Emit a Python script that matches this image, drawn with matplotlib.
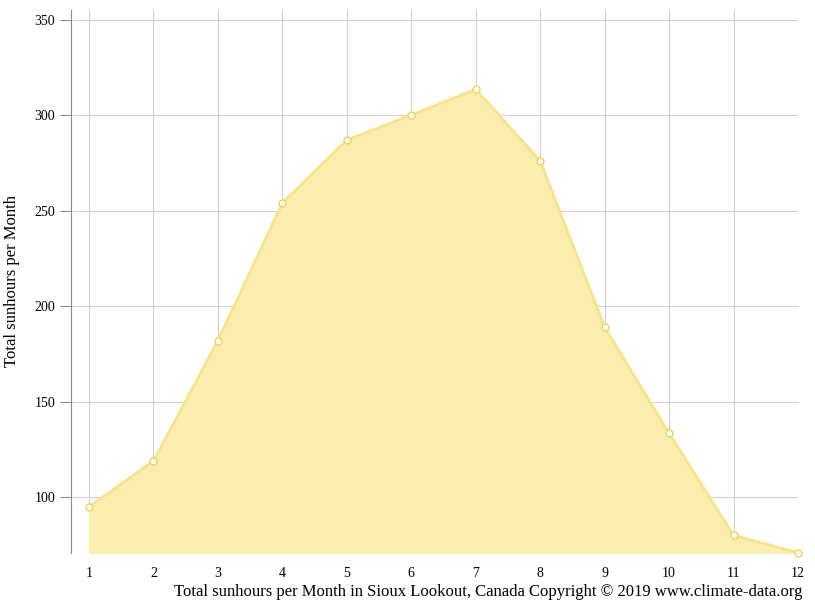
import matplotlib
matplotlib.use('Agg')
import matplotlib.pyplot as plt

plt.rcParams['font.family'] = ['Liberation Serif', 'DejaVu Serif']

# Monthly sunshine hours, Sioux Lookout
months = [1, 2, 3, 4, 5, 6, 7, 8, 9, 10, 11, 12]
sunhours = [95, 119, 182, 254, 287, 300, 313.5, 276, 189, 133.5, 80, 71]
yticks = [100, 150, 200, 250, 300, 350]

fig = plt.figure(figsize=(8.15, 6.11), dpi=100)
ax = fig.add_axes([71 / 815, 1 - 553 / 611, 727 / 815, 543 / 611])

ax.fill_between(months, sunhours, 0, color='#f9eeb0', zorder=2)
ax.plot(months, sunhours, color='#f7e38a', lw=2, zorder=3)
ax.plot(months, sunhours, 'o', ms=5, mfc='white', mec='#f0d060', mew=1, zorder=4, clip_on=False)

ax.set_xlim(0.72, 12)
ax.set_ylim(70.8, 355)
ax.set_xticks(months)
ax.set_yticks(yticks)
ax.grid(True, color='#d0d0d0', lw=0.8, zorder=0)
for s in ['top', 'right', 'bottom']:
    ax.spines[s].set_visible(False)
ax.spines['left'].set_color('#888888')
ax.tick_params(axis='x', length=0, pad=10, labelsize=10)
ax.tick_params(axis='y', length=8, color='#888888', labelsize=10, direction='out')

ax.set_ylabel('Total sunhours per Month', fontsize=12, labelpad=10)
fig.text(802 / 815, 1 - 592 / 611, 'Total sunhours per Month in Sioux Lookout, Canada Copyright © 2019 www.climate-data.org',
         ha='right', va='center', fontsize=12)

fig.savefig('out.png')
